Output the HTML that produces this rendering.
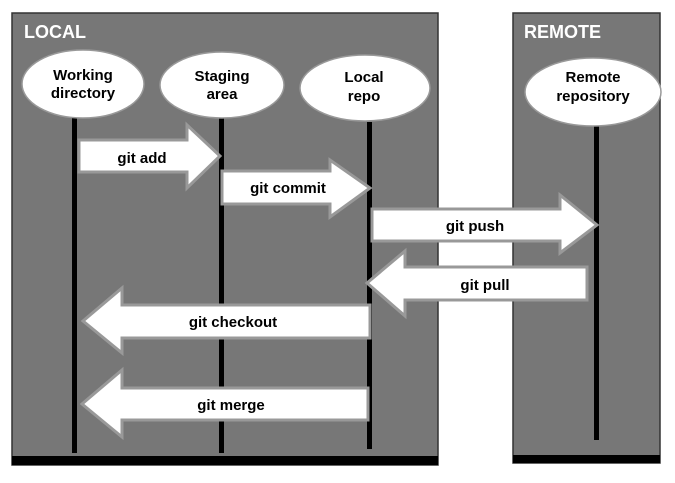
<!DOCTYPE html>
<html><head><style>
body{margin:0;background:#fff;}
svg text{font-family:"Liberation Sans",Arial,sans-serif;font-weight:bold;}
</style></head><body>
<svg width="675" height="478" viewBox="0 0 675 478" xmlns="http://www.w3.org/2000/svg">
<rect x="12" y="13" width="426" height="452" fill="#777" stroke="#333" stroke-width="1.5"/>
<rect x="12" y="456" width="426" height="9" fill="#000"/>
<rect x="513" y="13" width="147" height="450" fill="#777" stroke="#333" stroke-width="1.5"/>
<rect x="513" y="455" width="147" height="8" fill="#000"/>
<text x="24" y="38" font-size="18" fill="#fff">LOCAL</text>
<text x="524" y="38" font-size="18" fill="#fff">REMOTE</text>
<g fill="#000">
<rect x="72" y="118" width="5" height="335"/>
<rect x="219" y="118" width="5" height="335"/>
<rect x="367" y="122" width="5" height="327"/>
<rect x="594" y="122" width="5" height="318"/>
</g>
<g fill="#fff" stroke="#999" stroke-width="1.5">
<ellipse cx="83" cy="84" rx="61" ry="34"/>
<ellipse cx="222" cy="85" rx="62" ry="33"/>
<ellipse cx="365" cy="88" rx="65" ry="33"/>
<ellipse cx="593" cy="92" rx="68" ry="34"/>
</g>
<g font-size="15" fill="#000" text-anchor="middle">
<text x="83" y="80">Working</text><text x="83" y="98">directory</text>
<text x="222" y="81">Staging</text><text x="222" y="99">area</text>
<text x="364" y="82">Local</text><text x="364" y="101">repo</text>
<text x="593" y="82">Remote</text><text x="593" y="101">repository</text>
</g>
<g fill="#fff" stroke="#999" stroke-width="3" stroke-linejoin="miter">
<polygon points="79,140 187,140 187,125 220,156 187,188 187,172 79,172"/>
<polygon points="222,171 330,171 330,160 370,188 330,217 330,204 222,204"/>
<polygon points="372,209 560,209 560,195 597,225 560,253 560,241 372,241"/>
<polygon points="587,267 405,267 405,251 367,283 405,316 405,300 587,300"/>
<polygon points="370,305 122,305 122,288 83,321 122,353 122,338 370,338"/>
<polygon points="368,388 122,388 122,370 82,404 122,437 122,420 368,420"/>
</g>
<g font-size="15" fill="#000" text-anchor="middle">
<text x="142" y="163">git add</text>
<text x="288" y="193">git commit</text>
<text x="475" y="231">git push</text>
<text x="485" y="290">git pull</text>
<text x="233" y="327">git checkout</text>
<text x="231" y="410">git merge</text>
</g>
</svg>
</body></html>
